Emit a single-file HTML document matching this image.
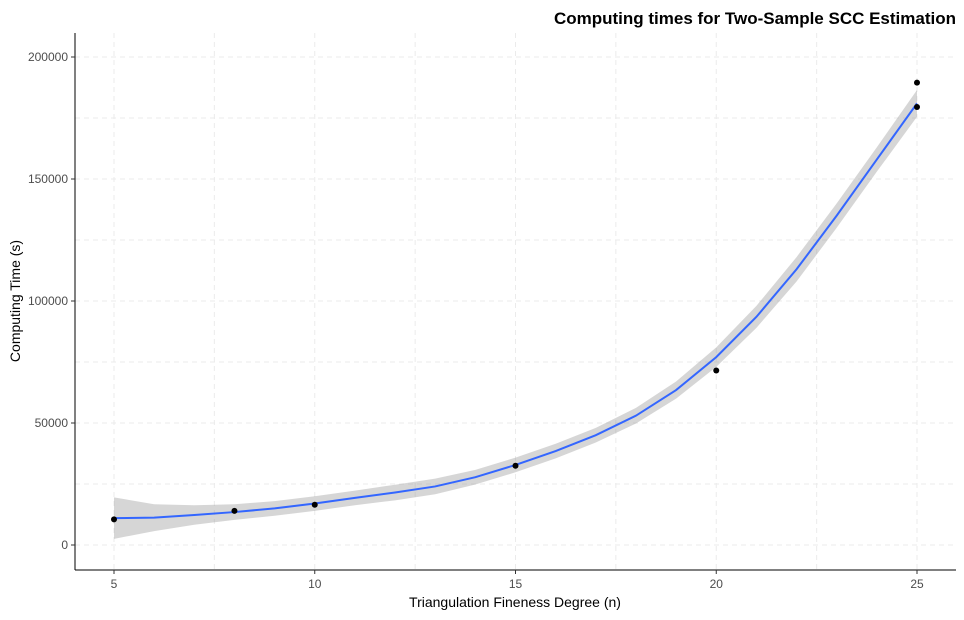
<!DOCTYPE html>
<html><head><meta charset="utf-8"><style>
body{margin:0;background:#fff;}
svg text{font-family:"Liberation Sans",Arial,sans-serif;}
</style></head><body>
<svg id="chart" width="964" height="615" xmlns="http://www.w3.org/2000/svg">
<text x="956" y="24" text-anchor="end" font-size="17" font-weight="bold" fill="#000">Computing times for Two-Sample SCC Estimation</text>
<g id="grid"></g>
<g id="band"></g>
<g id="line"></g>
<g id="points"></g>
<g id="axes"></g>
<text x="515" y="607" text-anchor="middle" font-size="14" fill="#000">Triangulation Fineness Degree (n)</text>
<text transform="translate(20,301) rotate(-90)" text-anchor="middle" font-size="14" fill="#000">Computing Time (s)</text>
</svg>
<script>
const xTicks=[5,10,15,20,25];
const yTicks=[0,50000,100000,150000,200000];
const yTickLabels=["0","50000","100000","150000","200000"];
const pointX=[5,8,10,15,20,25,25];
const pointY=[10500,14000,16500,32500,71500,189500,179500];
const fitX=[5,6,7,8,9,10,11,12,13,14,15,16,17,18,19,20,21,22,23,24,25];
const fitY=[11000,11200,12300,13500,15000,17000,19300,21500,24000,27800,32800,38500,45000,53000,63500,77000,93500,113000,135000,158000,181000];
const fitSE=[8500,5500,4000,3200,3000,3000,3000,3200,3200,3000,3000,3000,3000,3200,3500,4000,4500,5000,5000,5000,5500];
const NS="http://www.w3.org/2000/svg";
const X=v=>114+(v-5)*(917-114)/20;
const Y=v=>545-v*(488/200000);
function mk(t,a,p){const e=document.createElementNS(NS,t);for(const k in a)e.setAttribute(k,a[k]);p.appendChild(e);return e;}
const grid=document.getElementById('grid');
const gx=[];for(let i=0;i<xTicks.length;i++){gx.push(xTicks[i]);if(i<xTicks.length-1)gx.push((xTicks[i]+xTicks[i+1])/2);}
gx.forEach(v=>{const l=mk('line',{x1:X(v),x2:X(v),y1:33,y2:570,stroke:'#ebebeb','stroke-dasharray':'5,4','stroke-width':1},grid);});
const gy=[];for(let i=0;i<yTicks.length;i++){gy.push(yTicks[i]);if(i<yTicks.length-1)gy.push((yTicks[i]+yTicks[i+1])/2);}
gy.forEach(v=>{const l=mk('line',{x1:75,x2:956,y1:Y(v),y2:Y(v),stroke:'#ebebeb','stroke-dasharray':'5,4','stroke-width':1},grid);});
let up=fitX.map((x,i)=>X(x)+','+Y(fitY[i]+fitSE[i]));
let lo=fitX.map((x,i)=>X(x)+','+Y(fitY[i]-fitSE[i])).reverse();
const band=mk('polygon',{points:up.concat(lo).join(' '),fill:'#999','fill-opacity':0.4},document.getElementById('band'));

const ln=mk('polyline',{points:fitX.map((x,i)=>X(x)+','+Y(fitY[i])).join(' '),fill:'none',stroke:'#3366FF','stroke-width':2},document.getElementById('line'));

pointX.forEach((x,i)=>{const c=mk('circle',{cx:X(x),cy:Y(pointY[i]),r:3,fill:'#000'},document.getElementById('points'));});
const ax=document.getElementById('axes');
mk('line',{x1:75,x2:75,y1:33,y2:570,stroke:'#000','stroke-width':1},ax);
mk('line',{x1:75,x2:956,y1:570,y2:570,stroke:'#000','stroke-width':1},ax);
xTicks.forEach(v=>{mk('line',{x1:X(v),x2:X(v),y1:570,y2:574,stroke:'#333'},ax);const t=mk('text',{x:X(v),y:588,'text-anchor':'middle','font-size':12,fill:'#4d4d4d'},ax);t.textContent=v;});
yTicks.forEach((v,i)=>{mk('line',{x1:71,x2:75,y1:Y(v),y2:Y(v),stroke:'#333'},ax);const t=mk('text',{x:68,y:Y(v)+4,'text-anchor':'end','font-size':12,fill:'#4d4d4d'},ax);t.textContent=yTickLabels[i];});
</script>
</body></html>
